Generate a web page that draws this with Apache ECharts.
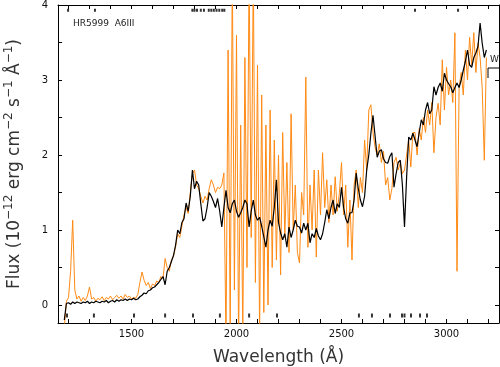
<!DOCTYPE html>
<html>
<head>
<meta charset="utf-8">
<script src="https://cdn.jsdelivr.net/npm/echarts@6/dist/echarts.min.js"></script>
<style>
  html, body { margin: 0; padding: 0; background: #fff; }
  #chart { width: 500px; height: 367px; }
</style>
</head>
<body>
<div id="chart"></div>
<script>
// grade de comprimentos de onda (Å), passo de 10
const waveStart = 1180;
const waveStep = 10;

// fluxo da curva preta (10^-12 erg cm^-2 s^-1 Å^-1)
const fluxBlack = [
  -0.2, 0.02, 0.03, 0.01, 0.04, 0.02, 0.04, 0.03, 0.02, 0.04,
  0.03, 0.05, 0.02, 0.04, 0.03, 0.05, 0.04, 0.03, 0.05, 0.04,
  0.06, 0.03, 0.05, 0.06, 0.04, 0.07, 0.05, 0.07, 0.06, 0.08,
  0.06, 0.08, 0.07, 0.09, 0.07, 0.08, 0.11, 0.13, 0.16, 0.15,
  0.19, 0.2, 0.23, 0.24, 0.27, 0.3, 0.34, 0.38, 0.27, 0.45,
  0.5, 0.58, 0.66, 0.8, 1.0, 0.95, 1.1, 1.15, 1.36, 1.25,
  1.45, 1.8, 1.55, 1.65, 1.6, 1.35, 1.12, 1.15, 1.3, 1.5,
  1.45, 1.38, 1.3, 1.42, 1.25, 1.04, 1.3, 1.53, 1.3, 1.23,
  1.35, 1.4, 1.25, 1.17, 1.23, 1.3, 1.4, 1.35, 1.04, 1.25,
  1.4, 1.2, 1.13, 1.17, 1.05, 0.91, 0.77, 1.0, 1.13, 1.05,
  1.3, 1.67, 1.1, 0.96, 0.87, 0.95, 0.77, 1.04, 0.9, 1.0,
  1.13, 1.05, 1.04, 0.96, 1.09, 1.0, 1.09, 0.83, 0.95, 0.9,
  1.02, 0.92, 0.87, 0.95, 1.1, 1.27, 1.15, 1.3, 1.4, 1.22,
  1.35, 1.3, 1.57, 1.3, 1.15, 1.09, 1.23, 1.23, 1.4, 1.76,
  1.55, 1.4, 1.31, 1.45, 1.8, 2.0, 2.29, 2.53, 2.25, 1.97,
  2.05, 2.07, 1.95, 1.9, 1.89, 1.98, 2.03, 1.57, 1.75, 1.9,
  1.93, 1.6, 1.04, 1.7, 2.24, 2.2, 2.29, 2.2, 2.11, 2.3,
  2.47, 2.4, 2.6, 2.7, 2.55, 2.6, 2.91, 2.8, 2.9, 2.96,
  2.85, 3.09, 3.0, 2.95, 2.91, 2.83, 2.9, 2.96, 2.9, 3.0,
  3.13, 3.25, 3.4, 3.2, 3.17, 3.3, 3.36, 3.45, 3.76, 3.49,
  3.3, 3.4
];

// fluxo da curva laranja (mais ruidosa)
const fluxOrange = [
  -0.3, 0.05, 0.1, 0.45, 1.13, 0.2, 0.08, 0.12, 0.05, 0.1,
  0.06, 0.12, 0.24, 0.08, 0.1, 0.05, 0.09, 0.07, 0.11, 0.06,
  0.1, 0.08, 0.12, 0.07, 0.1, 0.13, 0.09, 0.12, 0.08, 0.14,
  0.1, 0.12, 0.08, 0.1, 0.09, 0.14, 0.3, 0.44, 0.33, 0.26,
  0.3, 0.22, 0.28, 0.26, 0.32, 0.3, 0.38, 0.35, 0.62, 0.5,
  0.45, 0.6, 0.65, 0.78, 0.95, 0.9, 1.05, 1.2, 1.3, 1.22,
  1.5, 1.75, 1.8, 1.6, 1.55, 1.45, 1.36, 1.45, 1.4, 1.55,
  1.67, 1.6, 1.5, 1.57, 1.55, 1.6, 1.76, -0.5, 3.4, -0.4,
  4.5, 0.2, 3.6, -0.5, 2.4, -0.4, 3.3, 0.5, 4.5, 0.9,
  4.5, 0.3, 3.2, -0.4, 2.8, -0.1, 2.4, 0.0, 2.6, 0.5,
  2.2, 0.6, 2.0, 0.4, 2.3, 0.9, 1.9, 0.7, 2.55, 1.0,
  1.6, 0.7, 0.56, 1.5, 1.2, 3.04, 0.77, 1.6, 1.0, 1.8,
  0.64, 1.8, 1.2, 2.03, 1.3, 1.67, 1.1, 1.6, 1.2, 1.71,
  1.25, 1.5, 1.9, 1.2, 1.6, 0.77, 1.4, 0.6, 1.6, 1.8,
  1.3, 1.7, 1.5, 2.2, 1.8, 2.6, 2.67, 2.3, 2.1, 2.0,
  2.15, 1.9, 2.05, 1.6, 1.7, 1.4, 1.55, 1.9, 1.97, 1.8,
  1.9, 1.75, 1.8, 2.0, 2.2, 1.84, 2.3, 2.3, 2.0, 2.35,
  2.2, 2.5, 2.3, 2.6, 2.4, 2.7, 2.03, 2.5, 2.69, 2.4,
  3.27, 2.6, 3.17, 2.8, 3.0, 2.7, 3.63, 0.45, 2.9, 3.1,
  2.8, 3.4, 3.0, 3.57, 3.2, 3.63, 3.1, 3.49, 3.3, 2.9,
  1.93, 3.3
];

// marcas pequenas (pontos ruins) no topo e na base
const flagsTop = [1198, 1326, 1790, 1800, 1812, 1830, 1845, 1868, 1880, 1892, 1905, 1918, 1932, 1942, 2850, 3055];
const flagsBottom = [1193, 1321, 1512, 1660, 1793, 1921, 2060, 2193, 2583, 2645, 2731, 2788, 2800, 2831, 2874, 2907];

// ticks e rótulos dos eixos
const xTicks = [];
for (let w = 1200; w <= 3200; w += 100) xTicks.push(w);
const xLabels = [1500, 2000, 2500, 3000];
const yTicks = [0, 0.5, 1, 1.5, 2, 2.5, 3, 3.5, 4];
const yLabels = [0, 1, 2, 3, 4];

const xMin = 1150, xMax = 3250;
const yMin = -0.24, yMax = 4;

const wavelengths = fluxBlack.map((_, i) => waveStart + i * waveStep);
const flagTopY = 3.93;
const flagBottomY = -0.14;

const fonte = "'DejaVu Sans', 'Liberation Sans', sans-serif";

function eixoX(pos, comRotulo) {
  return {
    type: 'value', position: pos, min: xMin, max: xMax,
    axisLine: { show: true, onZero: false, lineStyle: { color: '#000', width: 1 } },
    axisTick: { show: true, inside: true, length: 4, customValues: xTicks, lineStyle: { color: '#000' } },
    axisLabel: comRotulo
      ? { show: true, customValues: xLabels, margin: 6, fontSize: 10, color: '#111', fontFamily: fonte, formatter: v => String(v) }
      : { show: false },
    splitLine: { show: false }
  };
}

function eixoY(pos, comRotulo) {
  return {
    type: 'value', position: pos, min: yMin, max: yMax,
    axisLine: { show: true, onZero: false, lineStyle: { color: '#000', width: 1 } },
    axisTick: { show: true, inside: true, length: 4, customValues: yTicks, lineStyle: { color: '#000' } },
    axisLabel: comRotulo
      ? { show: true, customValues: yLabels, margin: 10, fontSize: 10, color: '#111', fontFamily: fonte, formatter: v => String(v) }
      : { show: false },
    splitLine: { show: false }
  };
}

const xBase = eixoX('bottom', true);
xBase.name = 'Wavelength (Å)';
xBase.nameLocation = 'middle';
xBase.nameGap = 26;
xBase.nameTextStyle = { fontSize: 17, color: '#333', fontFamily: fonte };

const yEsq = eixoY('left', true);
yEsq.name = '{t|Flux (10}{s|−12}{t| erg cm}{s|−2}{t| s}{s|−1}{t| Å}{s|−1}{t|)}';
yEsq.nameLocation = 'middle';
yEsq.nameRotate = 90;
yEsq.nameGap = 31;
yEsq.nameTextStyle = {
  rich: {
    t: { fontSize: 17, color: '#333', fontFamily: fonte, lineHeight: 24 },
    s: { fontSize: 12, color: '#333', fontFamily: fonte, lineHeight: 12, verticalAlign: 'top' }
  }
};

const chart = echarts.init(document.getElementById('chart'));
chart.setOption({
  animation: false,
  grid: { left: 58, right: 1, top: 5, bottom: 44, containLabel: false, outerBoundsMode: 'none' },
  xAxis: [xBase, eixoX('top', false)],
  yAxis: [yEsq, eixoY('right', false)],
  graphic: [
    { type: 'text', left: 73, top: 19, style: { text: 'HR5999  A6III', fontSize: 9, fill: '#222', fontFamily: fonte } },
    { type: 'text', left: 490, top: 55, style: { text: 'W', fontSize: 9, fill: '#222', fontFamily: fonte } },
    { type: 'polyline', shape: { points: [[488, 78], [488, 68], [499, 68]] }, style: { stroke: '#000', lineWidth: 1, fill: null } }
  ],
  series: [
    {
      type: 'line', name: 'orange', showSymbol: false, symbol: 'none',
      data: wavelengths.map((w, i) => [w, fluxOrange[i]]),
      lineStyle: { color: '#ff8a14', width: 1 }, z: 2
    },
    {
      type: 'line', name: 'black', showSymbol: false, symbol: 'none',
      data: wavelengths.map((w, i) => [w, fluxBlack[i]]),
      lineStyle: { color: '#000', width: 1.2 }, z: 3
    },
    {
      type: 'scatter', symbol: 'rect', symbolSize: [2, 3],
      data: flagsTop.map(w => [w, flagTopY]),
      itemStyle: { color: '#000' }, z: 4
    },
    {
      type: 'scatter', symbol: 'rect', symbolSize: [2, 4],
      data: flagsBottom.map(w => [w, flagBottomY]),
      itemStyle: { color: '#000' }, z: 4
    }
  ]
});
</script>
</body>
</html>
